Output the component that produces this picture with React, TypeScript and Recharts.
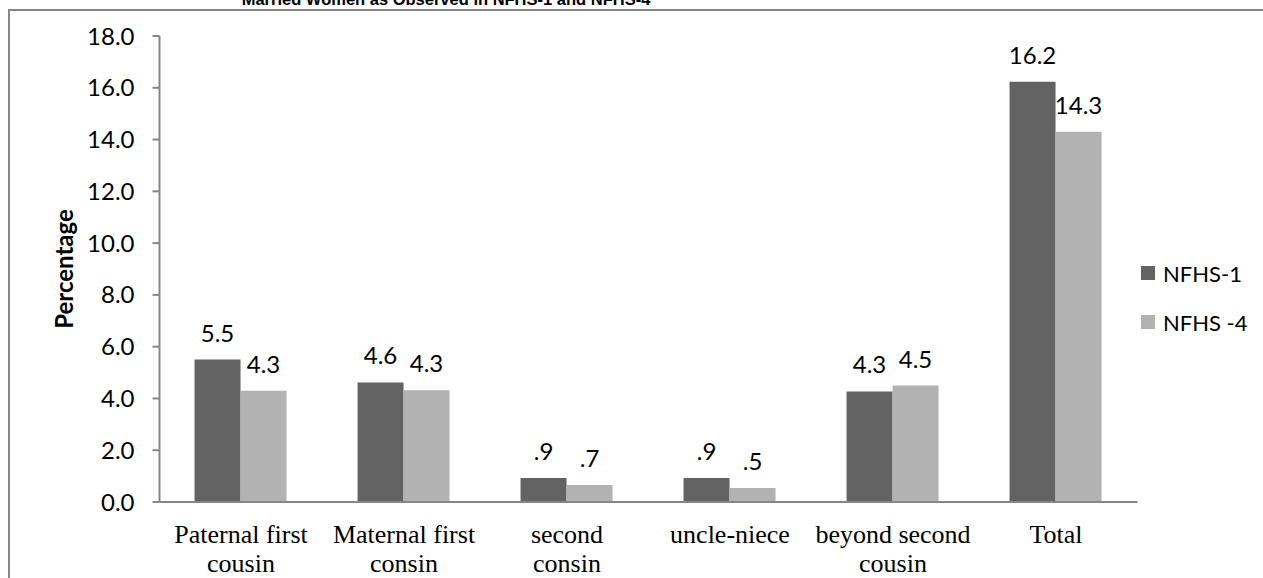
import { BarChart, Bar, XAxis, YAxis, LabelList, Label } from 'recharts';

const categories = ['Paternal first\ncousin', 'Maternal first\nconsin', 'second\nconsin', 'uncle-niece', 'beyond second\ncousin', 'Total'];
const nfhs1 = [5.5, 4.62, 0.93, 0.93, 4.27, 16.23];
const nfhs4 = [4.3, 4.32, 0.66, 0.54, 4.5, 14.3];
const yTicks = [0, 2, 4, 6, 8, 10, 12, 14, 16, 18];
const seriesNames = ['NFHS-1', 'NFHS -4'];

const DARK = '#636363';
const LIGHT = '#b2b2b2';
const AXIS = '#868686';
const SANS = 'Lato, sans-serif';

const data = categories.map((name, i) => ({ name, nfhs1: nfhs1[i], nfhs4: nfhs4[i] }));

// excel style: 0.9 -> ".9"
const fmt = (v: number) => {
  const s = v.toFixed(1);
  return s.startsWith('0') ? s.slice(1) : s;
};

const CategoryTick = ({ x, y, payload }: any) => {
  const lines = String(payload.value).split('\n');
  return (
    <text x={x} y={y} textAnchor="middle" fontFamily="'Liberation Serif', serif" fontSize={26} fill="#000">
      {lines.map((l, i) => (
        <tspan key={i} x={x} dy={i === 0 ? 33 : 29}>{l}</tspan>
      ))}
    </text>
  );
};

export default function App() {
  return (
    <div style={{ position: 'fixed', left: 0, top: 0, width: 1263, height: 578, overflow: 'hidden', background: '#fff' }}>
      <div
        style={{
          position: 'absolute',
          left: 8,
          top: 9,
          width: 1260,
          height: 580,
          borderTop: `2px solid ${AXIS}`,
          borderLeft: `2px solid ${AXIS}`,
        }}
      />
      <div
        style={{
          position: 'absolute',
          left: 446 - 300,
          top: -10,
          width: 600,
          textAlign: 'center',
          fontFamily: "'Liberation Sans', Arial, sans-serif",
          fontWeight: 'bold',
          fontSize: 16.5,
          whiteSpace: 'nowrap',
        }}
      >
        Married Women as Observed in NFHS-1 and NFHS-4
      </div>
      <div style={{ position: 'absolute', left: 8, top: 8 }}>
        <BarChart
          width={1247}
          height={570}
          data={data}
          margin={{ top: 28, right: 117.5, bottom: 0, left: 0 }}
          barCategoryGap="21.5%"
          barGap={0}
        >
          <XAxis
            dataKey="name"
            height={76}
            interval={0}
            tickLine={false}
            axisLine={{ stroke: AXIS, strokeWidth: 2 }}
            tick={<CategoryTick />}
          />
          <YAxis
            width={151.5}
            domain={[0, 18]}
            ticks={yTicks}
            interval={0}
            tickSize={7}
            tickMargin={18}
            tickFormatter={(v: number) => v.toFixed(1)}
            axisLine={{ stroke: AXIS, strokeWidth: 2 }}
            tickLine={{ stroke: AXIS, strokeWidth: 2 }}
            tick={{ fill: '#000', fontFamily: SANS, fontSize: 24 }}
          >
            <Label
              value="Percentage"
              angle={-90}
              position="insideLeft"
              offset={56}
              style={{ textAnchor: 'middle', fontFamily: SANS, fontWeight: 'bold', fontSize: 24, fill: '#000' }}
            />
          </YAxis>
          <Bar dataKey="nfhs1" name={seriesNames[0]} fill={DARK} isAnimationActive={false}>
            <LabelList dataKey="nfhs1" position="top" offset={18} formatter={(v: any) => fmt(Number(v))} style={{ fill: '#000', fontFamily: SANS, fontSize: 24 }} />
          </Bar>
          <Bar dataKey="nfhs4" name={seriesNames[1]} fill={LIGHT} isAnimationActive={false}>
            <LabelList dataKey="nfhs4" position="top" offset={18} formatter={(v: any) => fmt(Number(v))} style={{ fill: '#000', fontFamily: SANS, fontSize: 24 }} />
          </Bar>
        </BarChart>
      </div>
      <div style={{ position: 'absolute', left: 1141, top: 260, fontFamily: SANS, fontSize: 22, color: '#000' }}>
        {seriesNames.map((t, i) => (
          <div key={t} style={{ display: 'flex', alignItems: 'center', height: 26, marginBottom: 23, whiteSpace: 'nowrap' }}>
            <span style={{ width: 14, height: 14, background: i === 0 ? DARK : LIGHT, display: 'inline-block', marginRight: 8 }} />
            {t}
          </div>
        ))}
      </div>
    </div>
  );
}
